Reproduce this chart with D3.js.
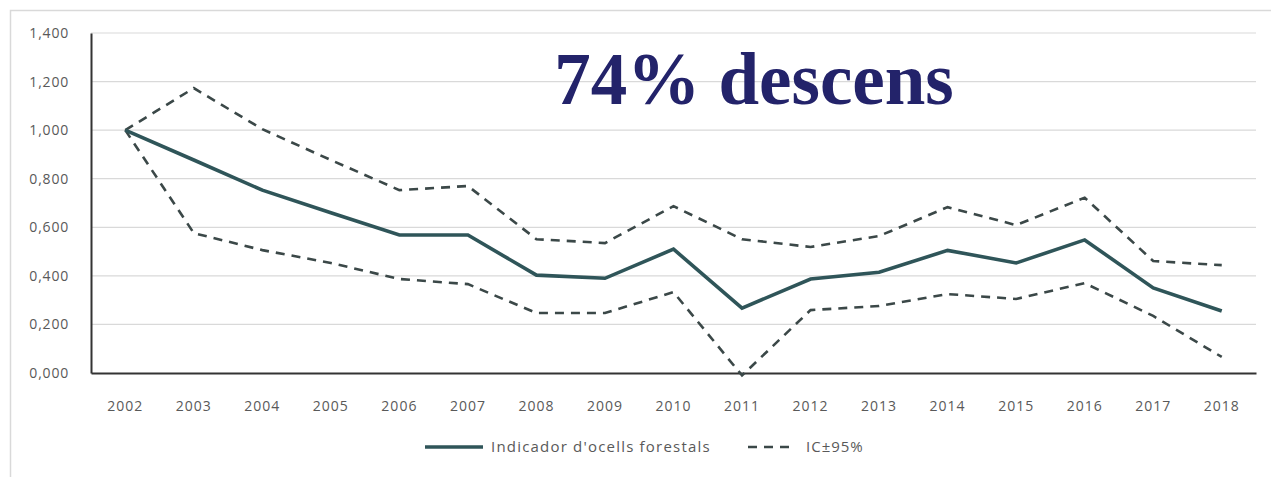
<!DOCTYPE html>
<html><head><meta charset="utf-8">
<script src="https://cdn.jsdelivr.net/npm/d3@7"></script>
<style>body{margin:0;background:#fff;} svg{display:block;}</style>
</head><body>
<script>
const years = ["2002","2003","2004","2005","2006","2007","2008","2009","2010","2011","2012","2013","2014","2015","2016","2017","2018"];
const indicator = [1.000,0.877,0.753,0.660,0.568,0.568,0.403,0.390,0.510,0.267,0.387,0.415,0.505,0.453,0.548,0.350,0.255];
const upper = [1.000,1.173,1.004,0.877,0.753,0.770,0.551,0.535,0.687,0.551,0.519,0.564,0.683,0.609,0.722,0.461,0.444];
const lower = [1.000,0.576,0.506,0.453,0.387,0.366,0.247,0.247,0.333,-0.010,0.259,0.276,0.325,0.305,0.370,0.235,0.066];
const yTicks = [0,0.2,0.4,0.6,0.8,1.0,1.2,1.4];
const yTickLabels = ["0,000","0,200","0,400","0,600","0,800","1,000","1,200","1,400"];
const title = "74% descens";
const legendLabels = ["Indicador d'ocells forestals","IC\u00b195%"];

const W=1271,H=477;
const svg=d3.select("body").append("svg").attr("width",W).attr("height",H);
svg.append("rect").attr("x",10.5).attr("y",10.5).attr("width",W).attr("height",H+50)
  .attr("fill","#fff").attr("stroke","#d9d9d9").attr("stroke-width",1.5);

const x=d3.scaleBand().domain(years).range([91,1256]);
const y=d3.scaleLinear().domain([0,1.4]).range([373,33]);
const cx=d=>x(d)+x.bandwidth()/2;
const font="'Open Sans',sans-serif";

// gridlines
svg.append("g").selectAll("line").data(yTicks.filter(d=>d>0)).join("line")
  .attr("x1",91).attr("x2",1256).attr("y1",d=>y(d)).attr("y2",d=>y(d))
  .attr("stroke","#d9d9d9").attr("stroke-width",1.2);

// y labels
const yAxis=d3.axisLeft(y).tickValues(yTicks).tickFormat((d,i)=>yTickLabels[i]).tickSize(0).tickPadding(22);
const gy=svg.append("g").attr("transform","translate(91,0)").call(yAxis);
gy.select(".domain").attr("stroke","#333").attr("stroke-width",2);
gy.selectAll("text").attr("font-family",font).attr("font-size",14).attr("letter-spacing",0.8).attr("fill","#595959");

// x axis
const xAxis=d3.axisBottom(x).tickSize(0).tickPadding(28);
const gx=svg.append("g").attr("transform","translate(0,373)").call(xAxis);
gx.select(".domain").attr("stroke","#333").attr("stroke-width",2);
gx.selectAll("text").attr("font-family",font).attr("font-size",14).attr("letter-spacing",1).attr("fill","#595959");

const line=d3.line().x((d,i)=>cx(years[i])).y(d=>y(d));
const dashCol="#3b4848", mainCol="#2f5559";
svg.append("path").datum(upper).attr("d",line).attr("fill","none")
  .attr("stroke",dashCol).attr("stroke-width",2.6).attr("stroke-dasharray","9,7");
svg.append("path").datum(lower).attr("d",line).attr("fill","none")
  .attr("stroke",dashCol).attr("stroke-width",2.6).attr("stroke-dasharray","9,7");
svg.append("path").datum(indicator).attr("d",line).attr("fill","none")
  .attr("stroke",mainCol).attr("stroke-width",3.6).attr("stroke-linejoin","miter");

// title
svg.append("text").attr("x",754).attr("y",104).attr("text-anchor","middle")
  .attr("font-family","'Liberation Serif','Times New Roman',serif").attr("font-weight","bold")
  .attr("font-size",73).attr("fill","#23236a").text(title);

// legend
const lg=svg.append("g");
lg.append("line").attr("x1",425).attr("x2",483).attr("y1",447).attr("y2",447).attr("stroke",mainCol).attr("stroke-width",3.4);
lg.append("text").attr("x",491).attr("y",452).attr("font-family",font).attr("font-size",15).attr("letter-spacing",1.2).attr("fill","#595959").text(legendLabels[0]);
lg.append("line").attr("x1",748).attr("x2",792).attr("y1",447).attr("y2",447).attr("stroke",dashCol).attr("stroke-width",2.6).attr("stroke-dasharray","9,7");
lg.append("text").attr("x",806).attr("y",452).attr("font-family",font).attr("font-size",15).attr("letter-spacing",1).attr("fill","#595959").text(legendLabels[1]);
</script>
</body></html>
